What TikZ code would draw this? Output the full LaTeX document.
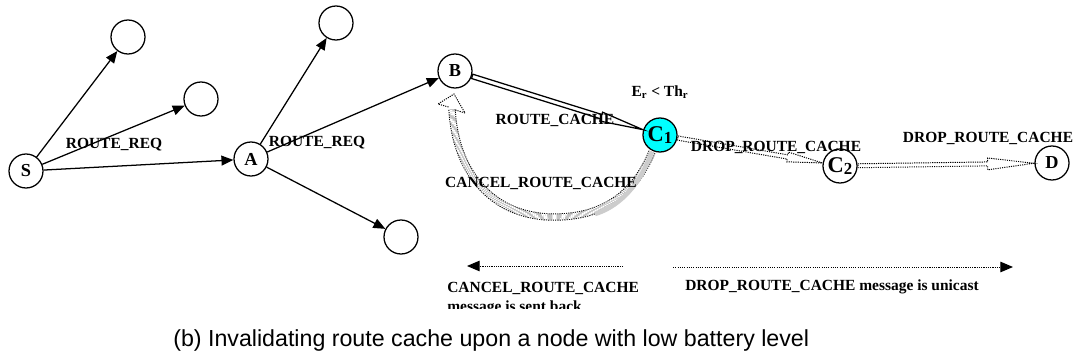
\documentclass[tikz,border=0pt]{standalone}
\usepackage{fontspec}
\setmainfont{Liberation Serif}
\newfontfamily\capfont{Liberation Sans}
\usetikzlibrary{positioning,arrows.meta,calc}

\definecolor{lowcyan}{RGB}{0,255,255}

% hollow arrow: style, from, to, shaft half width, head half width, head length
\newcommand{\hollowarrow}[6]{%
  \coordinate (ha-b) at ($(#3)!#6!(#2)$);
  \draw[#1] ($(#2)!#4!90:(#3)$) -- ($(ha-b)!#4!90:(#3)$) -- ($(ha-b)!#5!90:(#3)$) -- (#3)
    -- ($(ha-b)!#5!-90:(#3)$) -- ($(ha-b)!#4!-90:(#3)$) -- ($(#2)!#4!-90:(#3)$) -- cycle;}

\tikzset{
  host/.style={circle, draw, line width=0.9pt, minimum size=0.85cm, inner sep=0pt,
    font=\fontsize{13}{13}\selectfont\bfseries},
  lowhost/.style={host, fill=lowcyan},
  req/.style={line width=0.9pt, -{Triangle[length=8.5pt,width=7pt]}},
  lbl/.style={font=\fontsize{11}{13}\selectfont\bfseries, inner sep=0pt},
  rim/.style={line width=0.9pt},
  dotrim/.style={line width=0.7pt, dash pattern=on 0.8pt off 0.8pt},
  msgline/.style={line width=0.7pt, dash pattern=on 0.8pt off 0.8pt,
    -{Triangle[length=9pt,width=7.5pt]}}
}

\begin{document}
\begin{tikzpicture}[x=0.025cm, y=-0.025cm]
  \useasboundingbox (0,0) rectangle (1078,361);

  % hosts
  \node[host] (S) at (26,171) {S};
  \node[host] (n1) at (128,37) {};
  \node[host] (n2) at (201,99) {};
  \node[host] (A) at (251,159) {A};
  \node[host] (n3) at (336,23) {};
  \node[host] (n4) at (401,237) {};
  \node[host] (B) at (455,71) {B};
  \node[lowhost, font=\fontsize{16}{16}\selectfont\bfseries] (C1) at (660,135)
    {C\raisebox{-0.25ex}{\fontsize{12}{12}\selectfont 1}};
  \node[host, font=\fontsize{16}{16}\selectfont\bfseries] (C2) at (840,166)
    {C\raisebox{-0.25ex}{\fontsize{12}{12}\selectfont 2}};
  \node[host] (D) at (1052,163) {D};

  % route request flooding
  \draw[req] (S) -- (n1);
  \draw[req] (S) -- (n2);
  \draw[req] (S) -- (A);
  \draw[req] (A) -- (n3);
  \draw[req] (A) -- (B);
  \draw[req] (A) -- (n4);

  % route cache reply
  \coordinate (rc-s) at ($(B)!0.45cm!(C1)$);
  \coordinate (rc-e) at ($(C1)!0.45cm!(B)$);
  \hollowarrow{rim}{rc-s}{rc-e}{1.6pt}{3.3pt}{31pt}

  % drop messages
  \coordinate (d1-s) at ($(C1)!0.45cm!(C2)$);
  \coordinate (d1-e) at ($(C2)!0.45cm!(C1)$);
  \hollowarrow{dotrim}{d1-s}{d1-e}{1.5pt}{3.5pt}{25pt}
  \coordinate (d2-s) at ($(C2)!0.45cm!(D)$);
  \coordinate (d2-e) at ($(D)!0.45cm!(C2)$);
  \hollowarrow{dotrim}{d2-s}{d2-e}{1.4pt}{4.2pt}{33pt}

  % cancel message sent back to B
  \coordinate (cc-s) at ($(C1)+(-8,17)$);
  \coordinate (cc-m) at (550,217);
  \coordinate (cc-e) at (452,109);
  \draw[dotrim, double, double distance=3.8pt] (cc-s) .. controls (630,205) and (590,218) .. (cc-m)
    .. controls (490,215) and (455,170) .. (cc-e);
  \draw[gray!40, line width=3.2pt] (cc-s) .. controls (638,190) and (615,208) .. (595,214);
  \draw[dotrim] ($(cc-e)+(-3.5,-2)$) -- ($(cc-e)+(-14,-5)$) -- ($(cc-e)+(2,-15)$)
    -- ($(cc-e)+(13,4)$) -- ($(cc-e)+(3.5,1)$);

  % labels
  \node[lbl] (rq1) at (114,145) {ROUTE\_REQ};
  \node[lbl] (rq2) at (317,143) {ROUTE\_REQ};
  \node[lbl] (er) at (660,92) {E\textsubscript{r} < Th\textsubscript{r}};
  \node[lbl] (rc) at (555,120) {ROUTE\_CACHE};
  \node[lbl] (cc) at (541,183) {CANCEL\_ROUTE\_CACHE};
  \node[lbl] (dr1) at (776,147) {DROP\_ROUTE\_CACHE};
  \node[lbl] (dr2) at (988,138) {DROP\_ROUTE\_CACHE};

  % legend
  \coordinate (cb-s) at (623,266);
  \coordinate (cb-e) at (467,266);
  \draw[msgline] (cb-s) -- (cb-e);
  \coordinate (db-s) at (673,267);
  \coordinate (db-e) at (1013,267);
  \draw[msgline] (db-s) -- (db-e);
  \node[lbl, anchor=west] (cbt) at (447,288) {CANCEL\_ROUTE\_CACHE};
  \begin{scope}
    \clip (440,296) rectangle (640,308.5);
    \node[lbl, anchor=base west] (cbm) at (447,311) {message is sent back};
  \end{scope}
  \node[lbl, anchor=west] (dbt) at (685,287) {DROP\_ROUTE\_CACHE message is unicast};

  % caption
  \node[font=\capfont\fontsize{16.5}{18}\selectfont, anchor=west, inner sep=0pt] (cap) at (173,340)
    {(b) Invalidating route cache upon a node with low battery level};
\end{tikzpicture}
\end{document}
